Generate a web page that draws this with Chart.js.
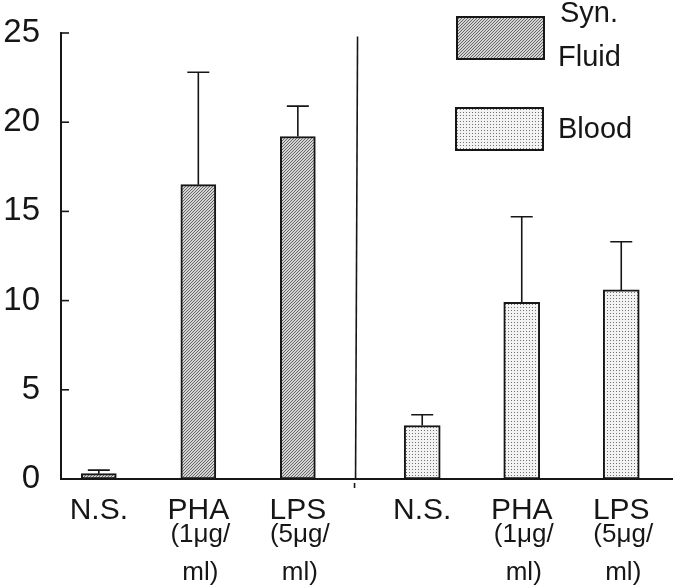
<!DOCTYPE html>
<html>
<head>
<meta charset="utf-8">
<script src="https://cdn.jsdelivr.net/npm/chart.js@4"></script>
<style>
  html, body { margin: 0; padding: 0; background: #fff; }
</style>
</head>
<body>
<canvas id="myChart" width="673" height="588"></canvas>
<script>
// data
const categories = ['N.S.', 'PHA', 'LPS'];
const subLabels = [[], ['(1μg/', 'ml)'], ['(5μg/', 'ml)']];
const legendNames = [['Syn.', 'Fluid'], ['Blood']];
const synFluid = [0.3, 16.5, 19.2];
const synFluidSd = [0.2, 6.3, 1.7];
const blood = [3.0, 9.9, 10.6];
const bloodSd = [0.6, 4.8, 2.7];
const yTicks = [0, 5, 10, 15, 20, 25];

const font = '"Liberation Sans", Arial, sans-serif';
const ink = '#161616';
const canvas = document.getElementById('myChart');
const ctx = canvas.getContext('2d');

// fill patterns
function hatchPattern() {
  const c = document.createElement('canvas');
  c.width = 3; c.height = 3;
  const g = c.getContext('2d');
  g.fillStyle = '#d4d4d4';
  g.fillRect(0, 0, 3, 3);
  g.strokeStyle = '#5a5a5a';
  g.lineWidth = 0.9;
  g.beginPath();
  g.moveTo(0, 3); g.lineTo(3, 0);
  g.moveTo(-1, 1); g.lineTo(1, -1);
  g.moveTo(2, 4); g.lineTo(4, 2);
  g.stroke();
  return ctx.createPattern(c, 'repeat');
}
function dotPattern() {
  const c = document.createElement('canvas');
  c.width = 3; c.height = 3;
  const g = c.getContext('2d');
  g.fillStyle = '#f3f3f3';
  g.fillRect(0, 0, 3, 3);
  g.fillStyle = '#707070';
  g.fillRect(1, 1, 1, 1);
  return ctx.createPattern(c, 'repeat');
}
const hatch = hatchPattern();
const dots = dotPattern();

// slot positions on the x axis: two groups with a wider gap between them
const xLeft = categories.map((c, i) => i + 1);
const xRight = categories.map((c, i) => i + 4.25);
const allX = xLeft.concat(xRight);

const extras = {
  id: 'extras',
  afterDatasetsDraw(chart) {
    const c = chart.ctx;
    const y = chart.scales.y;
    const x = chart.scales.x;
    const area = chart.chartArea;
    c.save();
    c.strokeStyle = ink;
    c.lineWidth = 1.6;
    // error bars (upper only)
    [[synFluid, synFluidSd], [blood, bloodSd]].forEach(([vals, sds], d) => {
      chart.getDatasetMeta(d).data.forEach((bar, i) => {
        const top = y.getPixelForValue(vals[i] + sds[i]);
        c.beginPath();
        c.moveTo(bar.x, bar.y);
        c.lineTo(bar.x, top);
        c.moveTo(bar.x - 11, top);
        c.lineTo(bar.x + 11, top);
        c.stroke();
      });
    });
    // inward y ticks
    yTicks.forEach(v => {
      const py = y.getPixelForValue(v);
      c.beginPath();
      c.moveTo(area.left, py);
      c.lineTo(area.left + 8, py);
      c.stroke();
    });
    // divider between the two groups
    const dx = x.getPixelForValue(3.6);
    c.beginPath();
    c.moveTo(dx, y.getPixelForValue(24.8));
    c.lineTo(dx - 2, area.bottom);
    c.stroke();
    c.beginPath();
    c.moveTo(dx - 3, area.bottom + 4);
    c.lineTo(dx - 3, area.bottom + 9);
    c.stroke();
    c.restore();
  },
  afterDraw(chart) {
    const c = chart.ctx;
    const x = chart.scales.x;
    const area = chart.chartArea;
    c.save();
    c.fillStyle = ink;
    c.textAlign = 'center';
    c.textBaseline = 'middle';
    c.font = '26px ' + font;
    allX.forEach((v, i) => {
      const px = x.getPixelForValue(v);
      subLabels[i % 3].forEach((t, j) => {
        c.fillText(t, px + 2, area.bottom + 56 + j * 38);
      });
    });
    // legend
    const boxes = [[457, 17, hatch], [456, 108, dots]];
    boxes.forEach(([bx, by, fill]) => {
      c.fillStyle = fill;
      c.fillRect(bx, by, 87, 42);
      c.strokeStyle = ink;
      c.lineWidth = 2;
      c.strokeRect(bx, by, 87, 42);
    });
    c.fillStyle = ink;
    c.textAlign = 'left';
    c.font = '29px ' + font;
    c.fillText(legendNames[0][0], 560, 14);
    c.fillText(legendNames[0][1], 558, 58);
    c.fillText(legendNames[1][0], 558, 130);
    c.restore();
  }
};

new Chart(canvas, {
  type: 'bar',
  data: {
    datasets: [
      {
        label: legendNames[0].join(' '),
        data: synFluid.map((v, i) => ({ x: xLeft[i], y: v })),
        backgroundColor: hatch,
        borderColor: ink,
        borderWidth: 2,
        borderSkipped: false,
        barThickness: 35,
        grouped: false
      },
      {
        label: legendNames[1][0],
        data: blood.map((v, i) => ({ x: xRight[i], y: v })),
        backgroundColor: dots,
        borderColor: ink,
        borderWidth: 2,
        borderSkipped: false,
        barThickness: 36,
        grouped: false
      }
    ]
  },
  options: {
    responsive: false,
    animation: false,
    devicePixelRatio: 1,
    layout: { padding: { top: 33, right: 0, left: 0, bottom: 0 } },
    plugins: {
      legend: { display: false },
      tooltip: { enabled: false }
    },
    scales: {
      x: {
        type: 'linear',
        min: 0.62,
        max: 6.77,
        offset: false,
        grid: { display: false },
        border: { color: ink, width: 2 },
        afterBuildTicks: s => { s.ticks = allX.map(v => ({ value: v })); },
        afterFit: s => { s.height = 109; s.paddingLeft = 0; s.paddingRight = 0; },
        ticks: {
          autoSkip: false,
          maxRotation: 0,
          padding: 6,
          color: ink,
          font: { family: font, size: 30 },
          callback: (value, index) => categories[index % 3]
        }
      },
      y: {
        min: 0,
        max: 25,
        grid: { display: false, drawTicks: false },
        border: { color: ink, width: 2 },
        afterFit: s => { s.width = 61; s.paddingTop = 0; s.paddingBottom = 0; },
        afterBuildTicks: s => { s.ticks = yTicks.map(v => ({ value: v })); },
        ticks: {
          padding: 21,
          color: ink,
          font: { family: font, size: 33 }
        }
      }
    }
  },
  plugins: [extras]
});
</script>
</body>
</html>
